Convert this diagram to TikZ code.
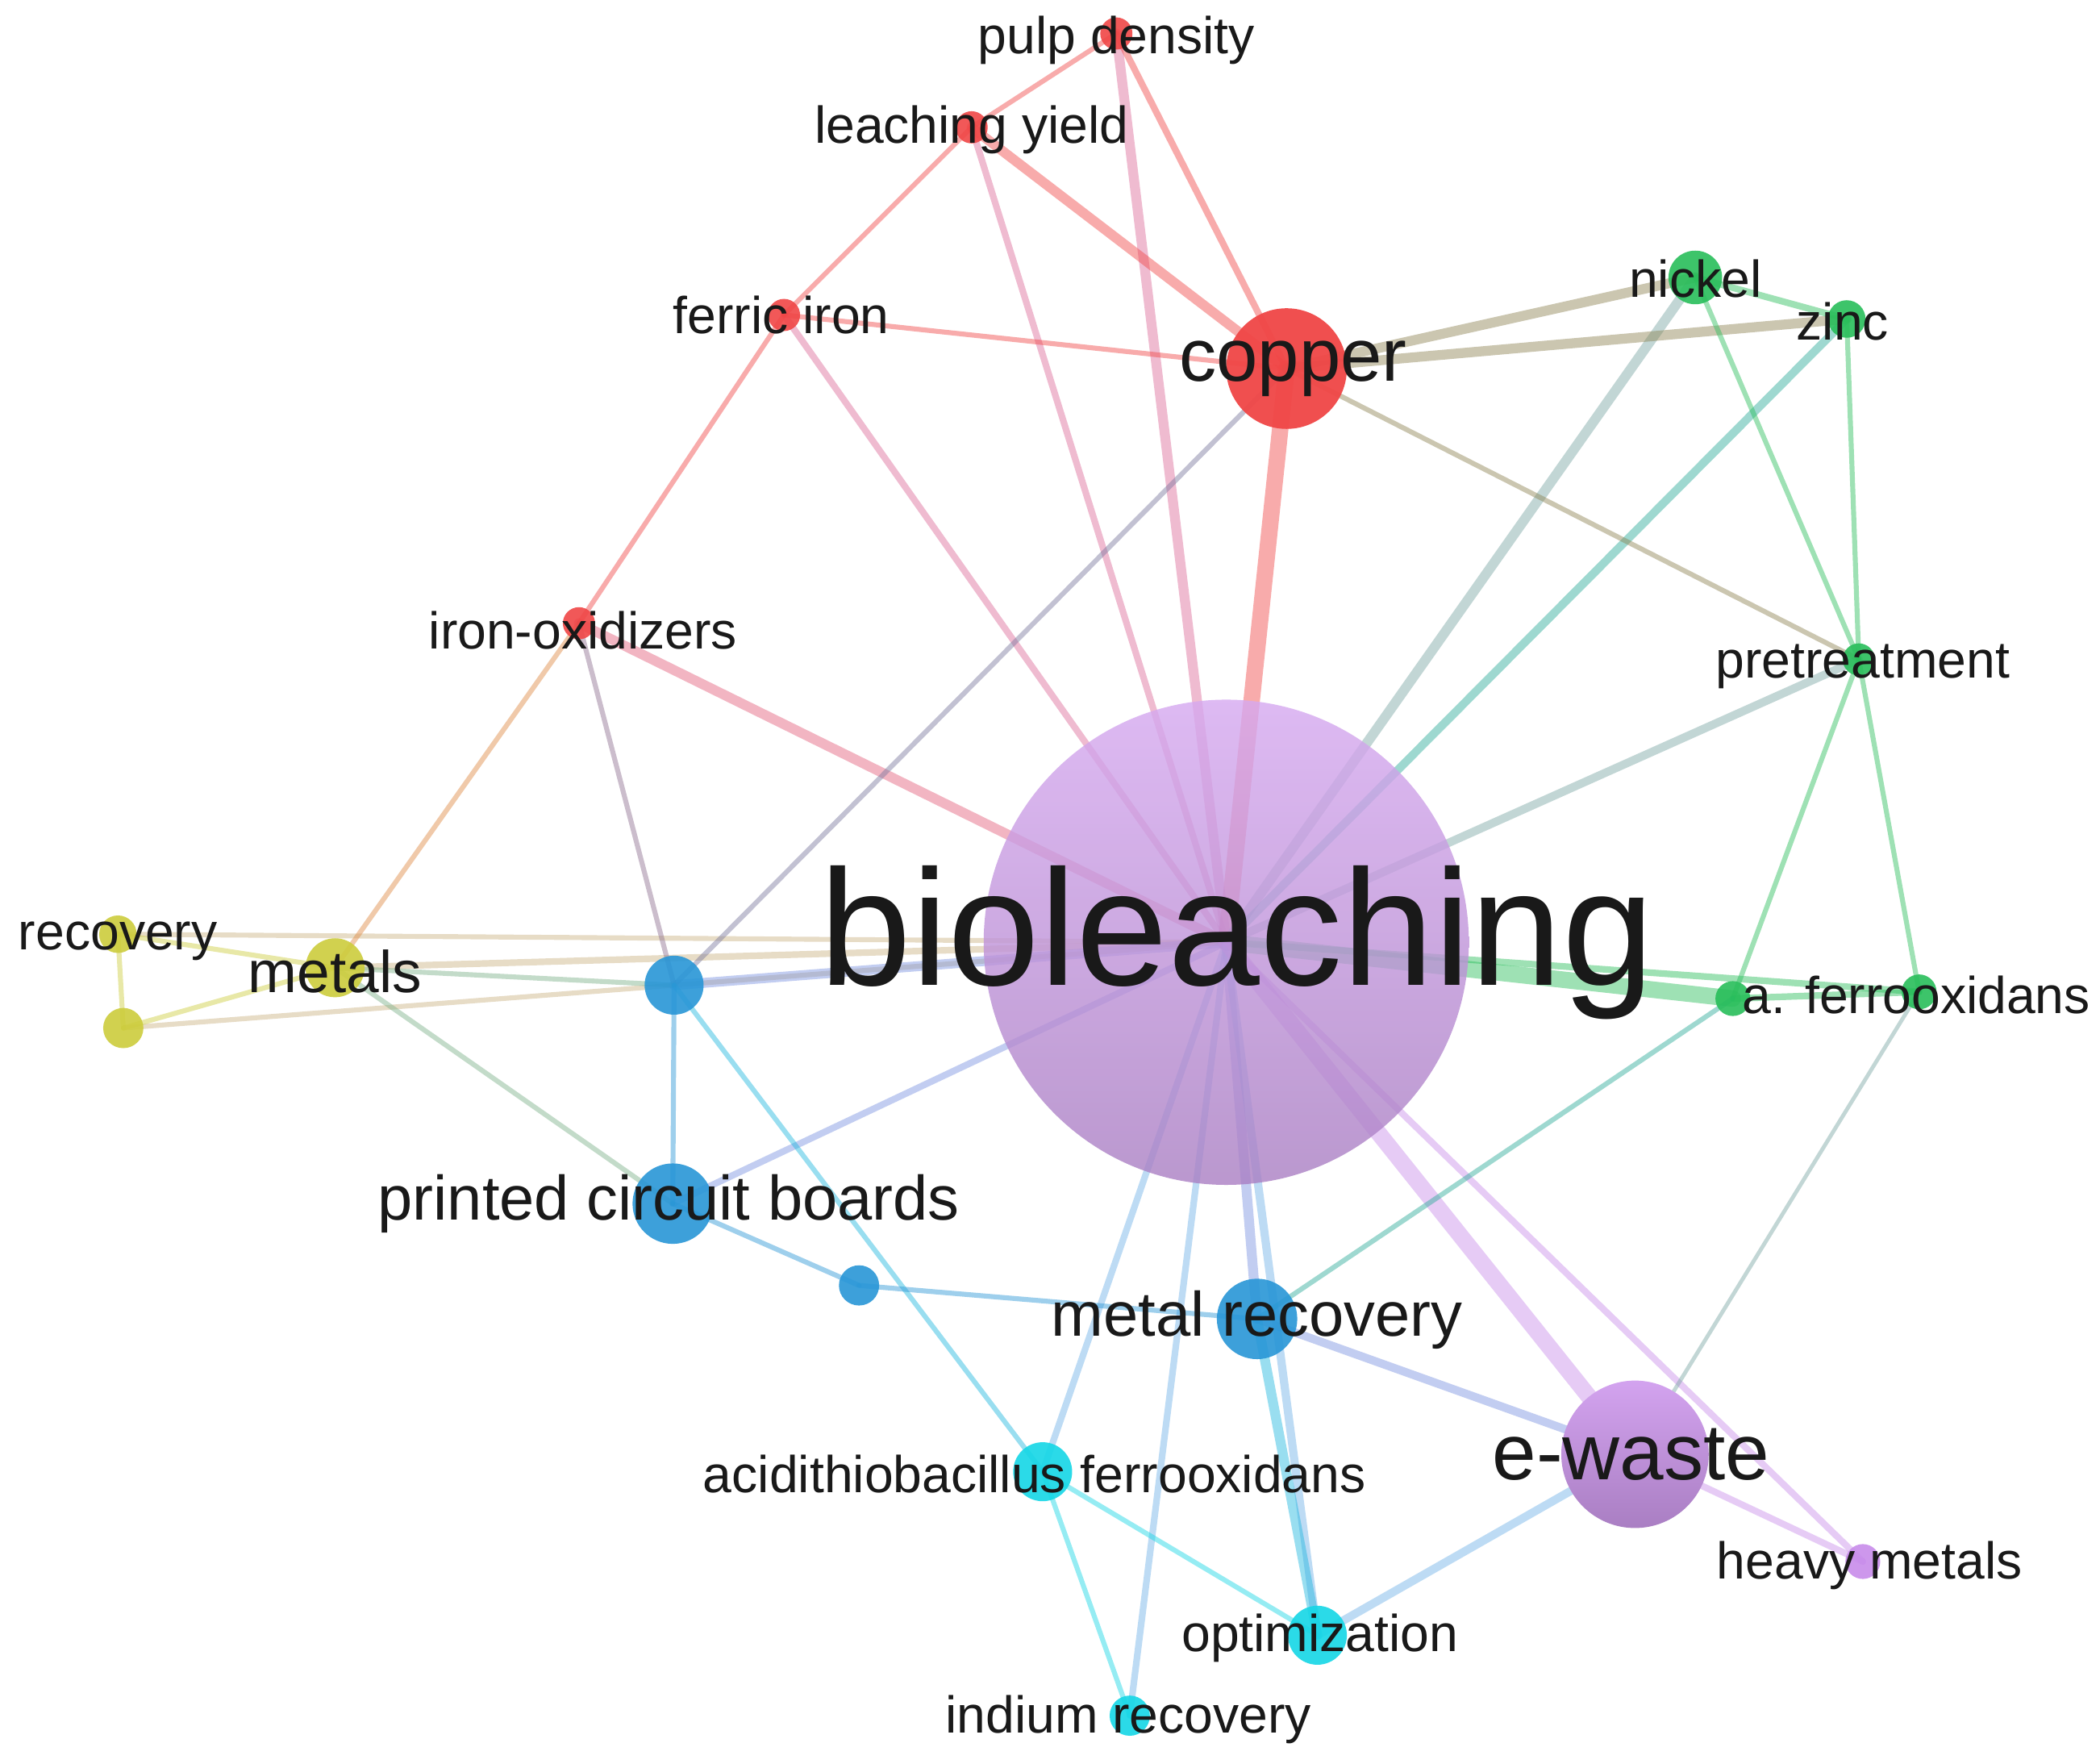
\documentclass[tikz,border=0pt]{standalone}
\usepackage{fontspec}
\setmainfont{Liberation Sans}
\begin{document}
\begin{tikzpicture}[x=0.01cm,y=-0.01cm,
 dot/.style={circle,inner sep=0pt,minimum size=#1*0.01cm},
 lbl/.style={font=\fontsize{11}{13}\selectfont,text=black!90,inner sep=0pt},
 ln/.style={line width=0.7*#1, opacity=0.45, line cap=round},
]
\definecolor{cR}{RGB}{240,70,70}
\definecolor{cG}{RGB}{40,190,90}
\definecolor{cY}{RGB}{205,205,60}
\definecolor{cB}{RGB}{40,150,215}
\definecolor{cC}{RGB}{20,215,230}
\definecolor{cP}{RGB}{200,140,235}
\useasboundingbox (0,0) rectangle (1567,1316);
\fill[white] (0,0) rectangle (1567,1316);
\coordinate (bio) at (915,703);
\coordinate (cop) at (960,275);
\coordinate (pulp) at (833,25);
\coordinate (ly) at (725,95);
\coordinate (fe) at (585,235);
\coordinate (iox) at (432,465);
\coordinate (ni) at (1265,207);
\coordinate (zn) at (1378,238);
\coordinate (pre) at (1387,492);
\coordinate (af1) at (1293,745);
\coordinate (af2) at (1432,740);
\coordinate (rec) at (88,697);
\coordinate (y2) at (92,767);
\coordinate (met) at (250,722);
\coordinate (bl) at (503,735);
\coordinate (pcb) at (502,898);
\coordinate (sb) at (641,959);
\coordinate (mr) at (938,984);
\coordinate (aci) at (778,1098);
\coordinate (opt) at (983,1220);
\coordinate (ind) at (843,1280);
\coordinate (ew) at (1220,1085);
\coordinate (hm) at (1390,1165);
\foreach \a/\b/\c/\w in {
 bio/cop/cR/5pt, bio/pulp/cP!50!cR/3pt, bio/ly/cP!50!cR/2pt, bio/fe/cP!50!cR/2pt, bio/iox/cR!70!cP/3pt,
 bio/ni/cG!50!cP/3pt, bio/zn/cG!50!cB/2.5pt, bio/pre/cG!50!cP/2.5pt, bio/af1/cG/5pt, bio/af2/cG/2pt,
 bio/met/cY!60!cP/2pt, bio/rec/cY!60!cP/1.5pt, bio/y2/cY!60!cP/1.5pt, bio/bl/cB!50!cP/3pt, bio/pcb/cB!50!cP/2pt,
 bio/mr/cB!50!cP/3pt, bio/aci/cC!50!cP/2pt, bio/opt/cC!50!cP/2.5pt, bio/ind/cC!50!cP/2pt, bio/ew/cP/5pt, bio/hm/cP/2pt,
 cop/pulp/cR/2pt, cop/ly/cR/3pt, cop/fe/cR/1.5pt, cop/ni/cR!50!cG/3pt, cop/zn/cR!50!cG/3pt, cop/pre/cR!50!cG/1.5pt, cop/bl/cR!40!cB/1.5pt,
 pulp/ly/cR/1.5pt, ly/fe/cR/1.5pt, fe/iox/cR/1.5pt, iox/met/cR!50!cY/1.5pt, iox/bl/cR!50!cB/1.5pt,
 ni/zn/cG/2pt, ni/pre/cG/1.5pt, zn/pre/cG/1.5pt, pre/af1/cG/1.5pt, pre/af2/cG/1.5pt, af1/af2/cG/2pt,
 af1/mr/cG!50!cB/1.5pt, af2/ew/cG!50!cP/1.2pt,
 rec/met/cY/1.5pt, rec/y2/cY/1.5pt, met/y2/cY/1.5pt, met/pcb/cY!50!cB/1.5pt, met/bl/cY!50!cB/1.5pt,
 bl/pcb/cB/1.5pt, bl/aci/cB!50!cC/1.5pt, pcb/sb/cB/1.5pt, sb/mr/cB/1.5pt,
 mr/ew/cB!50!cP/2.5pt, mr/opt/cB!50!cC/3pt, aci/opt/cC/1.5pt, aci/ind/cC/1.5pt,
 opt/ew/cC!50!cP/2.5pt, ew/hm/cP/2pt}
 \draw[ln=\w, draw=\c] (\a) -- (\b);
\node[dot=362, top color=cP!75, bottom color=cP!80!black!90, fill opacity=0.8] (nbio) at (bio) {};
\node[dot=90, fill=cR, fill opacity=0.95] (ncop) at (cop) {};
\foreach \n/\s/\c in {pulp/24/cR, ly/24/cR, fe/24/cR, iox/24/cR, ni/40/cG, zn/28/cG, pre/24/cG, af1/26/cG, af2/26/cG,
 rec/28/cY, y2/30/cY, met/44/cY, bl/44/cB, pcb/60/cB, sb/30/cB, mr/60/cB, aci/44/cC, opt/44/cC, ind/30/cC, hm/26/cP}
 \node[dot=\s, fill=\c, fill opacity=0.9] (n\n) at (\n) {};
\node[dot=110, top color=cP!80, bottom color=cP!80!black!90] (new) at (ew) {};
\node[lbl, font=\fontsize{35}{40}\selectfont] (tbio) at (923,703) {bioleaching};
\node[lbl, font=\fontsize{15.8}{18}\selectfont] (tcop) at (965,275) {copper};
\node[lbl, font=\fontsize{16.8}{19}\selectfont] (tew) at (1217,1085) {e-waste};
\node[lbl, font=\fontsize{13.3}{15}\selectfont] (tpcb) at (499,898) {printed circuit boards};
\node[lbl, font=\fontsize{13.3}{15}\selectfont] (tmr) at (938,985) {metal recovery};
\node[lbl] (tpulp) at (833,30) {pulp density};
\node[lbl] (tly) at (725,97) {leaching yield};
\node[lbl] (tfe) at (583,235) {ferric iron};
\node[lbl] (tiox) at (435,470) {iron-oxidizers};
\node[lbl] (tni) at (1265,208) {nickel};
\node[lbl] (tzn) at (1375,240) {zinc};
\node[lbl] (tpre) at (1390,497) {pretreatment};
\node[lbl] (taf) at (1430,742) {a. ferrooxidans};
\node[lbl] (trec) at (88,702) {recovery};
\node[lbl, font=\fontsize{12.5}{14}\selectfont] (tmet) at (250,725) {metals};
\node[lbl] (taci) at (772,1100) {acidithiobacillus ferrooxidans};
\node[lbl] (thm) at (1395,1168) {heavy metals};
\node[lbl] (topt) at (985,1222) {optimization};
\node[lbl] (tind) at (842,1283) {indium recovery};
\end{tikzpicture}
\end{document}
